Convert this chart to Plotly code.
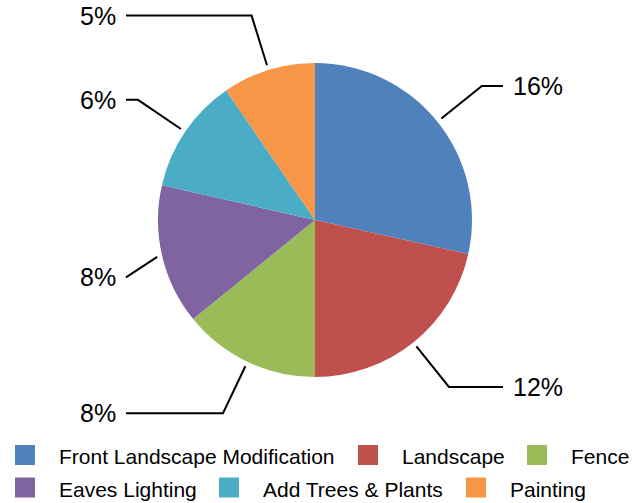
import math
import plotly.graph_objects as go

# ---- data ----
categories = ["Front Landscape Modification", "Landscape", "Fence",
              "Eaves Lighting", "Add Trees & Plants", "Painting"]
values = [16.2, 12.25, 8.05, 8.2, 6.75, 5.45]
colors = ["#4F81BD", "#C0504D", "#9BBB59", "#8064A2", "#4BACC6", "#F79646"]

# ---- layout constants (pixels) ----
W, H = 642, 503
CX, CY, R = 315, 220, 157
START_K, ELBOW_K = 1.032, 1.363
COL_LEFT, COL_RIGHT = CX - 189, CX + 188
LABEL_GAP = 8
FONT = "Arial, Liberation Sans, sans-serif"

legend_rows = [[0, 1, 2], [3, 4, 5]]
legend_x = [15, 358, 527, 15, 219, 466]
legend_row_y = [455, 487.5]
SW = 20
TEXT_OFF = 42


def px(x):
    return x / W


def py(y):
    return 1 - y / H


fig = go.Figure()
fig.add_trace(go.Pie(
    labels=categories, values=values, sort=False, direction="clockwise",
    rotation=0, textinfo="none", hoverinfo="label+value",
    marker=dict(colors=colors, line=dict(width=0)),
    domain=dict(x=[px(CX - R), px(CX + R)], y=[py(CY + R), py(CY - R)]),
    showlegend=False,
))

shapes = []
annotations = []
total = sum(values)
cum = 0.0
for i, v in enumerate(values):
    mid = (cum + v / 2) / total * 2 * math.pi
    cum += v
    s, c = math.sin(mid), math.cos(mid)
    x0, y0 = CX + R * START_K * s, CY - R * START_K * c
    x1, y1 = CX + R * ELBOW_K * s, CY - R * ELBOW_K * c
    if s >= 0:
        if x1 > COL_RIGHT:
            y1 += (x1 - COL_RIGHT) * 0.45
            x1 = COL_RIGHT
        x2 = COL_RIGHT
        tx, anchor = COL_RIGHT + LABEL_GAP, "left"
    else:
        if x1 < COL_LEFT:
            y1 += (COL_LEFT - x1) * 0.45
            x1 = COL_LEFT
        x2 = COL_LEFT
        tx, anchor = COL_LEFT - LABEL_GAP, "right"
    path = "M {} {} L {} {} L {} {}".format(px(x0), py(y0), px(x1), py(y1), px(x2), py(y1))
    shapes.append(dict(type="path", path=path, xref="paper", yref="paper",
                       line=dict(color="black", width=2)))
    annotations.append(dict(x=px(tx), y=py(y1), xref="paper", yref="paper",
                            text="{}%".format(int(v)), showarrow=False,
                            xanchor=anchor, yanchor="middle",
                            font=dict(family=FONT, size=25, color="black")))

for r, row in enumerate(legend_rows):
    yc = legend_row_y[r]
    for i in row:
        x = legend_x[i]
        shapes.append(dict(type="rect", xref="paper", yref="paper",
                           x0=px(x), x1=px(x + SW), y0=py(yc - SW / 2), y1=py(yc + SW / 2),
                           fillcolor=colors[i], line=dict(width=0)))
        annotations.append(dict(x=px(x + TEXT_OFF), y=py(yc + 1.5), xref="paper", yref="paper",
                                text=categories[i], showarrow=False,
                                xanchor="left", yanchor="middle",
                                font=dict(family=FONT, size=21, color="black")))

fig.update_layout(
    width=W, height=H,
    margin=dict(l=0, r=0, t=0, b=0),
    paper_bgcolor="white", plot_bgcolor="white",
    shapes=shapes, annotations=annotations,
    showlegend=False,
)

fig.write_html("out.html", config={"displayModeBar": False},
               post_script="document.body.style.margin='0';document.body.style.overflow='hidden';")
